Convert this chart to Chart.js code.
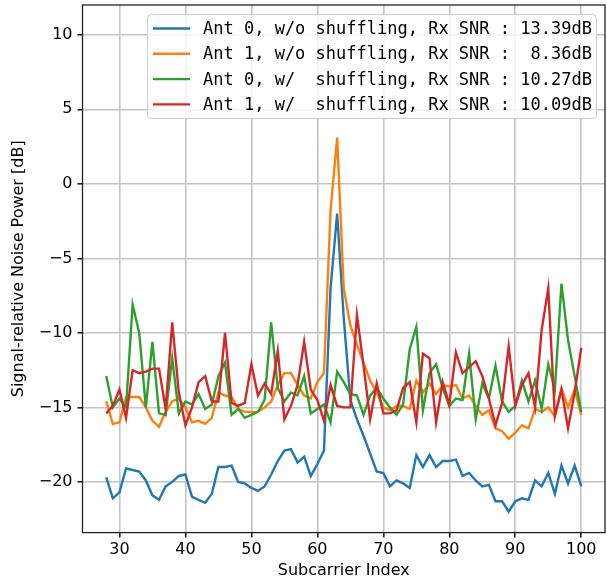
<!DOCTYPE html>
<html>
<head>
<meta charset="utf-8">
<script src="https://cdn.jsdelivr.net/npm/chart.js@4.4.1/dist/chart.umd.min.js"></script>
<style>
  body { margin: 0; background: #fff; }
</style>
</head>
<body>
<canvas id="noise_power" width="607" height="583"></canvas>
<script>
// subcarrier indices on the x axis
const subcarriers = [28, 29, 30, 31, 32, 33, 34, 35, 36, 37, 38, 39, 40, 41, 42, 43, 44, 45, 46, 47,
  48, 49, 50, 51, 52, 53, 54, 55, 56, 57, 58, 59, 60, 61, 62, 63, 64, 65, 66, 67,
  68, 69, 70, 71, 72, 73, 74, 75, 76, 77, 78, 79, 80, 81, 82, 83, 84, 85, 86, 87,
  88, 89, 90, 91, 92, 93, 94, 95, 96, 97, 98, 99, 100];

const ant0_noShuffle = [-19.7, -21.1, -20.7, -19.1, -19.2, -19.3, -19.9, -20.9, -21.2, -20.3,
  -20.0, -19.6, -19.5, -21.0, -21.2, -21.4, -20.8, -19.0, -19.0, -18.9,
  -20.0, -20.1, -20.4, -20.6, -20.3, -19.5, -18.6, -17.9, -17.8, -18.7,
  -18.3, -19.6, -18.8, -17.9, -7.0, -2.0, -9.0, -14.5, -15.8, -16.9,
  -18.1, -19.3, -19.4, -20.3, -19.9, -20.1, -20.4, -18.2, -19.0, -18.2,
  -19.0, -18.6, -18.6, -18.5, -19.6, -19.4, -19.9, -20.3, -20.2, -21.3,
  -21.3, -22.0, -21.3, -21.1, -21.2, -19.9, -20.3, -19.4, -20.8, -18.9,
  -20.1, -18.9, -20.3];

const ant1_noShuffle = [-14.6, -16.1, -16.0, -14.3, -14.3, -14.3, -15.0, -15.9, -16.3, -15.3,
  -14.6, -14.4, -15.0, -16.0, -15.9, -16.1, -15.7, -14.0, -14.2, -14.3,
  -15.1, -15.3, -15.3, -15.3, -15.0, -14.6, -13.5, -12.7, -12.7, -13.5,
  -14.2, -14.4, -13.3, -12.7, -1.8, 3.1, -7.0, -9.5, -10.8, -12.0,
  -13.2, -14.0, -15.0, -15.2, -14.9, -14.9, -15.1, -13.2, -14.0, -13.4,
  -14.1, -13.5, -13.6, -13.5, -14.4, -14.2, -14.9, -15.5, -15.2, -16.4,
  -16.6, -17.1, -16.7, -16.2, -16.4, -15.1, -15.3, -15.0, -15.6, -13.7,
  -15.0, -13.8, -15.5];

const ant0_shuffle = [-12.9, -15.0, -14.4, -15.0, -8.1, -10.0, -15.0, -10.6, -15.4, -15.5,
  -11.7, -15.4, -14.6, -14.8, -14.1, -15.1, -14.8, -12.9, -12.0, -15.5,
  -15.1, -15.7, -15.5, -15.3, -14.5, -9.3, -13.7, -14.6, -14.0, -14.2,
  -12.9, -15.4, -15.1, -14.8, -16.0, -12.6, -13.3, -14.1, -14.2, -15.5,
  -14.2, -13.7, -14.4, -15.0, -15.5, -14.8, -11.1, -9.6, -15.2, -12.7,
  -12.1, -13.7, -14.9, -14.4, -14.5, -11.4, -15.8, -13.4, -14.4, -12.2,
  -14.6, -15.3, -14.9, -13.2, -14.6, -13.2, -15.1, -12.1, -13.8, -6.7,
  -10.5, -12.9, -15.3];

const ant1_shuffle = [-15.4, -14.9, -13.8, -15.7, -12.5, -12.7, -12.6, -12.4, -12.4, -15.1,
  -9.3, -14.0, -16.2, -15.0, -13.3, -12.9, -14.6, -14.6, -10.0, -14.7,
  -14.9, -14.7, -12.1, -14.2, -13.4, -14.1, -11.2, -15.8, -14.9, -13.5,
  -10.6, -13.8, -14.5, -15.9, -13.5, -14.9, -15.0, -15.0, -8.8, -12.2,
  -15.8, -13.4, -15.4, -15.4, -15.2, -13.7, -13.3, -16.0, -11.4, -11.7,
  -16.0, -13.3, -14.8, -11.3, -12.7, -12.3, -11.9, -12.9, -14.4, -16.2,
  -14.7, -10.9, -14.9, -13.5, -12.7, -15.0, -9.8, -7.0, -15.6, -13.8,
  -16.4, -14.0, -11.0];

const seriesLabels = [
  'Ant 0, w/o shuffling, Rx SNR : 13.39dB',
  'Ant 1, w/o shuffling, Rx SNR :  8.36dB',
  'Ant 0, w/  shuffling, Rx SNR : 10.27dB',
  'Ant 1, w/  shuffling, Rx SNR : 10.09dB'
];
const seriesColors = ['#1f77b4', '#ff7f0e', '#2ca02c', '#d62728'];
const seriesValues = [ant0_noShuffle, ant1_noShuffle, ant0_shuffle, ant1_shuffle];

const xTicks = [30, 40, 50, 60, 70, 80, 90, 100];
const yTicks = [-20, -15, -10, -5, 0, 5, 10];

const fmt = v => String(v).replace('-', '\u2212');

// axes frame plus a matplotlib style legend inside the plot
const frameAndLegend = {
  id: 'frameAndLegend',
  afterDraw(chart) {
    const {ctx, chartArea: a} = chart;
    ctx.save();
    ctx.strokeStyle = '#222';
    ctx.lineWidth = 1.3;
    ctx.strokeRect(a.left, a.top, a.right - a.left, a.bottom - a.top);

    ctx.fillStyle = 'rgba(255,255,255,0.8)';
    ctx.strokeStyle = '#cccccc';
    ctx.lineWidth = 1;
    ctx.beginPath();
    ctx.roundRect(147.5, 14.5, 449, 104, 4);
    ctx.fill();
    ctx.stroke();

    ctx.font = '17px "DejaVu Sans Mono"';
    ctx.textBaseline = 'middle';
    chart.data.datasets.forEach((ds, i) => {
      const y = 28.5 + i * 25.3;
      ctx.strokeStyle = ds.borderColor;
      ctx.lineWidth = 2.4;
      ctx.beginPath();
      ctx.moveTo(153, y);
      ctx.lineTo(190, y);
      ctx.stroke();
      ctx.fillStyle = '#000';
      ctx.fillText(ds.label, 203, y + 1);
    });
    ctx.restore();
  }
};

const ctx = document.getElementById('noise_power');

new Chart(ctx, {
  type: 'line',
  data: {
    datasets: seriesValues.map((vals, i) => ({
      label: seriesLabels[i],
      data: subcarriers.map((x, j) => ({x: x, y: vals[j]})),
      borderColor: seriesColors[i],
      backgroundColor: seriesColors[i],
      borderWidth: 2.4,
      pointRadius: 0,
      tension: 0,
      order: 4 - i
    }))
  },
  options: {
    responsive: false,
    animation: false,
    layout: { padding: { left: 0, top: 5, right: 2, bottom: 0 } },
    plugins: {
      legend: { display: false },
      tooltip: { enabled: false }
    },
    scales: {
      x: {
        type: 'linear',
        min: 24.4,
        max: 103.6,
        afterBuildTicks: scale => { scale.ticks = xTicks.map(v => ({value: v})); },
        afterFit: scale => { scale.height = 50.4; scale.paddingLeft = 0; scale.paddingRight = 0; },
        grid: { color: '#c4c4c4', lineWidth: 1.6, tickLength: 5, tickColor: '#222', drawTicks: true },
        border: { display: false },
        ticks: { color: '#000', font: { family: 'DejaVu Sans', size: 16 }, padding: 3, maxRotation: 0, callback: v => fmt(v) },
        title: { display: true, text: 'Subcarrier Index', color: '#000', font: { family: 'DejaVu Sans', size: 16 }, padding: { top: 0, bottom: 3 } }
      },
      y: {
        min: -23.4,
        max: 12,
        afterBuildTicks: scale => { scale.ticks = yTicks.map(v => ({value: v})); },
        afterFit: scale => { scale.width = 82.5; scale.paddingTop = 0; scale.paddingBottom = 0; },
        grid: { color: '#c4c4c4', lineWidth: 1.6, tickLength: 5, tickColor: '#222', drawTicks: true },
        border: { display: false },
        ticks: { color: '#000', font: { family: 'DejaVu Sans', size: 16 }, padding: 5, callback: v => fmt(v) },
        title: { display: true, text: 'Signal-relative Noise Power [dB]', color: '#000', font: { family: 'DejaVu Sans', size: 16 }, padding: { top: 9, bottom: 0 } }
      }
    }
  },
  plugins: [frameAndLegend]
});
</script>
</body>
</html>
